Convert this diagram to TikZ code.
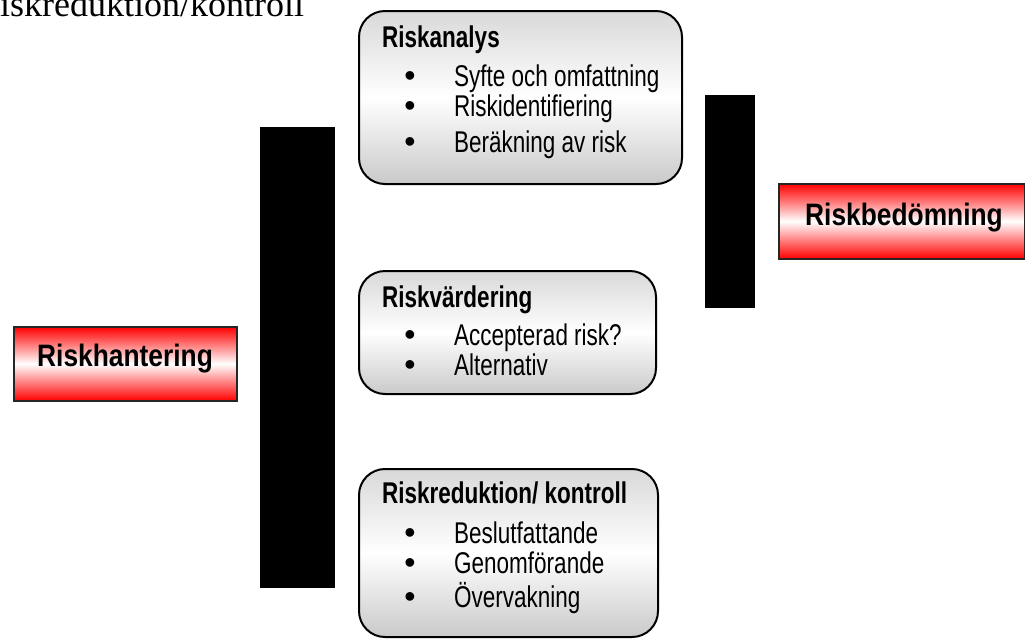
\documentclass[tikz,border=0pt]{standalone}
\usepackage{fontspec}
\setmainfont{Liberation Serif}
\newfontfamily\narrowsans[FakeStretch=0.75]{Liberation Sans}
\newfontfamily\boxsans[FakeStretch=0.85]{Liberation Sans}
\begin{document}
\begin{tikzpicture}[x=1pt,y=-1pt,
  panel/.style={draw=black, line width=2pt, rounded corners=26pt,
    top color=gray!30, bottom color=gray!42, middle color=white,
    anchor=north west, inner sep=0pt},
  redbox/.style={draw=black!85, line width=1.6pt,
    top color=red, bottom color=red, middle color=white,
    anchor=north west, inner sep=0pt},
  redlabel/.style={font=\boxsans\bfseries\fontsize{31}{36}\selectfont,
    inner sep=0pt, anchor=base},
  bar/.style={fill=black, inner sep=0pt, outer sep=0pt, anchor=north west},
  paneltitle/.style={font=\narrowsans\bfseries\fontsize{30}{36}\selectfont,
    inner sep=0pt, anchor=base west},
  item/.style={font=\narrowsans\fontsize{30}{36}\selectfont,
    inner sep=0pt, anchor=base west},
  bulletmark/.style={font=\fontspec{Liberation Sans}\fontsize{32}{36}\selectfont,
    inner sep=0pt, anchor=base}
]
\useasboundingbox (0,0) rectangle (1025,638);

% heading running off the upper left edge
\node[font=\fontsize{36}{42}\selectfont, inner sep=0pt, anchor=base west]
  (heading) at (-24,16) {Riskreduktion/kontroll};

% black braces
\node[bar, minimum width=75pt, minimum height=461pt] (leftbrace) at (260,127) {};
\node[bar, minimum width=50pt, minimum height=213pt] (rightbrace) at (705,95) {};

% red labels
\node[redbox, minimum width=223pt, minimum height=74pt] (hantering) at (13,326) {};
\node[redlabel] (hanteringtext) at (125,366) {Riskhantering};

\node[redbox, minimum width=246pt, minimum height=75pt] (bedomning) at (778,183) {};
\node[redlabel] (bedomningtext) at (904,225) {Riskbedömning};

% panel 1: Riskanalys
\node[panel, minimum width=323pt, minimum height=173pt] (analys) at (358,10) {};
\node[paneltitle] (analysT) at (382,47) {Riskanalys};
\node[bulletmark] (a1b) at (410,86) {•};
\node[item] (a1) at (454,86) {Syfte och omfattning};
\node[bulletmark] (a2b) at (410,116) {•};
\node[item] (a2) at (454,116) {Riskidentifiering};
\node[bulletmark] (a3b) at (410,152) {•};
\node[item] (a3) at (454,152) {Beräkning av risk};

% panel 2: Riskvärdering
\node[panel, minimum width=297pt, minimum height=123pt] (vardering) at (358,270) {};
\node[paneltitle] (varderingT) at (382,307) {Riskvärdering};
\node[bulletmark] (v1b) at (410,345) {•};
\node[item] (v1) at (454,345) {Accepterad risk?};
\node[bulletmark] (v2b) at (410,375) {•};
\node[item] (v2) at (454,375) {Alternativ};

% panel 3: Riskreduktion/ kontroll
\node[panel, minimum width=299pt, minimum height=168pt] (reduktion) at (358,468) {};
\node[paneltitle] (reduktionT) at (382,503) {Riskreduktion/ kontroll};
\node[bulletmark] (r1b) at (410,543) {•};
\node[item] (r1) at (454,543) {Beslutfattande};
\node[bulletmark] (r2b) at (410,573) {•};
\node[item] (r2) at (454,573) {Genomförande};
\node[bulletmark] (r3b) at (410,607) {•};
\node[item] (r3) at (454,607) {Övervakning};
\end{tikzpicture}
\end{document}
